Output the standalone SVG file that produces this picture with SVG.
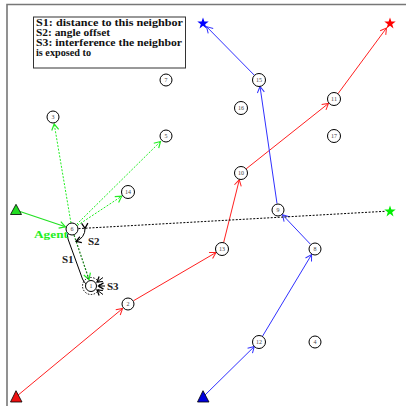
<svg xmlns="http://www.w3.org/2000/svg" width="406" height="406" viewBox="0 0 406 406">
  <style>
    .node circle { fill: #fff; stroke: #000; stroke-width: 1; }
    .node text { font-family: "Liberation Serif", "DejaVu Serif", serif; font-size: 6px; fill: #444; text-anchor: middle; }
    .lbl { font-family: "Liberation Serif", "DejaVu Serif", serif; font-weight: bold; font-size: 11px; fill: #222; }
    .leg { font-family: "Liberation Serif", "DejaVu Serif", serif; font-weight: bold; font-size: 10px; fill: #111; }
    .red { stroke: #ff2020; stroke-width: 1; fill: none; }
    .blue { stroke: #3030ff; stroke-width: 1; fill: none; }
    .grn { stroke: #22e022; stroke-width: 1.2; fill: none; }
    .grnd { stroke: #22ee22; stroke-width: 1; fill: none; stroke-dasharray: 2 1.5; }
    .dkgd { stroke: #117711; stroke-width: 1.2; fill: none; stroke-dasharray: 2 1.5; }
    .blkd { stroke: #000; stroke-width: 1; fill: none; stroke-dasharray: 2 1.5; }
  </style>
  <defs>
    <marker id="aR" markerUnits="userSpaceOnUse" markerWidth="12" markerHeight="12" refX="0" refY="0" viewBox="-7 -6 8 12" orient="auto">
      <path d="M-6,-3.5 L0,0 L-6,3.5" fill="none" stroke="#ff2020" stroke-width="1"/>
    </marker>
    <marker id="aB" markerUnits="userSpaceOnUse" markerWidth="12" markerHeight="12" refX="0" refY="0" viewBox="-7 -6 8 12" orient="auto">
      <path d="M-6,-3.5 L0,0 L-6,3.5" fill="none" stroke="#3030ff" stroke-width="1"/>
    </marker>
    <marker id="aG" markerUnits="userSpaceOnUse" markerWidth="12" markerHeight="12" refX="0" refY="0" viewBox="-7 -6 8 12" orient="auto">
      <path d="M-6,-3.5 L0,0 L-6,3.5" fill="none" stroke="#22ee22" stroke-width="1.2"/>
    </marker>
    <marker id="aK" markerUnits="userSpaceOnUse" markerWidth="10" markerHeight="10" refX="0" refY="0" viewBox="-5 -4 6 8" orient="auto">
      <path d="M-4,-2.5 L0,0 L-4,2.5" fill="none" stroke="#000" stroke-width="1"/>
    </marker>
    <polygon id="star" points="0,-6 1.4,-1.9 5.7,-1.9 2.2,0.7 3.5,4.9 0,2.3 -3.5,4.9 -2.2,0.7 -5.7,-1.9 -1.4,-1.9"/>
  </defs>

  <rect width="406" height="406" fill="#fff"/>
  <!-- frame -->
  <path d="M7,406 V4.5 H406" fill="none" stroke="#777" stroke-width="1.6"/>

  <!-- legend -->
  <g id="legend">
    <rect x="33.5" y="17" width="152" height="51" fill="#fff" stroke="#333" stroke-width="1"/>
    <text class="leg" x="36" y="26" textLength="147" lengthAdjust="spacingAndGlyphs">S1: distance to this neighbor</text>
    <text class="leg" x="36" y="36" textLength="74" lengthAdjust="spacingAndGlyphs">S2: angle offset</text>
    <text class="leg" x="36" y="46" textLength="146" lengthAdjust="spacingAndGlyphs">S3: interference the neighbor</text>
    <text class="leg" x="36" y="55.5" textLength="55" lengthAdjust="spacingAndGlyphs">is exposed to</text>
  </g>

  <!-- connectors -->
  <g id="connectors">
    <!-- red route -->
    <line class="red" x1="17" y1="396" x2="122.6" y2="308.5" marker-end="url(#aR)"/>
    <line class="red" x1="133.6" y1="300.7" x2="216" y2="252.5" marker-end="url(#aR)"/>
    <line class="red" x1="223.6" y1="242.7" x2="239.3" y2="179.8" marker-end="url(#aR)"/>
    <line class="red" x1="246.1" y1="168.9" x2="328.5" y2="103.4" marker-end="url(#aR)"/>
    <line class="red" x1="337.9" y1="93.8" x2="386.5" y2="28" marker-end="url(#aR)"/>
    <!-- blue route -->
    <line class="blue" x1="204" y1="396" x2="254.3" y2="346.5" marker-end="url(#aB)"/>
    <line class="blue" x1="262.4" y1="336.4" x2="311.6" y2="254.6" marker-end="url(#aB)"/>
    <line class="blue" x1="310.5" y1="244.3" x2="282.5" y2="214.8" marker-end="url(#aB)"/>
    <line class="blue" x1="277" y1="203.5" x2="260" y2="86.5" marker-end="url(#aB)"/>
    <line class="blue" x1="254.4" y1="75.3" x2="206.5" y2="26.6" marker-end="url(#aB)"/>
    <!-- agent entry -->
    <line class="grn" x1="20" y1="211.5" x2="65.4" y2="226.8" marker-end="url(#aG)"/>
    <!-- candidate neighbours -->
    <line class="grnd" x1="71" y1="223" x2="54.2" y2="124" marker-end="url(#aG)"/>
    <line class="grnd" x1="76.6" y1="224.4" x2="160.5" y2="141.5" marker-end="url(#aG)"/>
    <line class="grnd" x1="77.4" y1="225.4" x2="121.7" y2="196.2" marker-end="url(#aG)"/>
    <line class="dkgd" x1="74" y1="235" x2="89" y2="279.5" marker-end="url(#aG)"/>
    <!-- direction to destination -->
    <line class="blkd" x1="78.5" y1="228.6" x2="385" y2="211.3"/>
    <!-- S2 angle arc -->
    <path d="M85,228.3 A13,13 0 0 1 76.1,241.3" fill="none" stroke="#000" stroke-width="1" marker-start="url(#aK)" marker-end="url(#aK)"/>
    <!-- S1 distance bracket -->
    <path d="M69,232 Q66.5,235 68,239 L82.5,279 Q84,283 87,284.5" fill="none" stroke="#000" stroke-width="1"/>
    <!-- S3 interference -->
    <circle cx="91" cy="286" r="8.5" fill="none" stroke="#000" stroke-width="1" stroke-dasharray="1.5 1.5"/>
    <line x1="103" y1="277.5" x2="97" y2="282" stroke="#000" stroke-width="1" marker-end="url(#aK)"/>
    <line x1="105" y1="286" x2="98.5" y2="286" stroke="#000" stroke-width="1" marker-end="url(#aK)"/>
    <line x1="103" y1="294.5" x2="97" y2="290" stroke="#000" stroke-width="1" marker-end="url(#aK)"/>
  </g>

  <!-- sources and destinations -->
  <g id="sources">
    <polygon points="16,204.3 10.5,214.5 21.5,214.5" fill="#22dd22" stroke="#000" stroke-width="0.8"/>
    <polygon points="16,390.7 10.5,402 22,402" fill="#ee1111" stroke="#000" stroke-width="0.8"/>
    <polygon points="203,390.7 197.5,402 209,402" fill="#0000dd" stroke="#000" stroke-width="0.8"/>
  </g>
  <g id="destinations">
    <use href="#star" x="203" y="23.5" fill="#0000ff"/>
    <use href="#star" x="390" y="23.5" fill="#ff0000"/>
    <use href="#star" x="390" y="211.5" fill="#00ee00"/>
  </g>

  <!-- nodes -->
  <g id="n1" class="node"><circle cx="91" cy="286" r="5.5"/><text x="91" y="288">1</text></g>
  <g id="n2" class="node"><circle cx="128" cy="304" r="6"/><text x="128" y="306">2</text></g>
  <g id="n3" class="node"><circle cx="53" cy="117" r="6"/><text x="53" y="119">3</text></g>
  <g id="n4" class="node"><circle cx="315" cy="342" r="6"/><text x="315" y="344">4</text></g>
  <g id="n5" class="node"><circle cx="166" cy="136" r="6"/><text x="166" y="138">5</text></g>
  <g id="n6" class="node"><circle cx="72" cy="229" r="6"/><text x="72" y="231">6</text></g>
  <g id="n7" class="node"><circle cx="166" cy="80" r="6"/><text x="166" y="82">7</text></g>
  <g id="n8" class="node"><circle cx="315" cy="249" r="6"/><text x="315" y="251">8</text></g>
  <g id="n9" class="node"><circle cx="278" cy="210" r="6"/><text x="278" y="212">9</text></g>
  <g id="n10" class="node"><circle cx="241" cy="173" r="6.5"/><text x="241" y="175">10</text></g>
  <g id="n11" class="node"><circle cx="334" cy="99" r="6.5"/><text x="334" y="101">11</text></g>
  <g id="n12" class="node"><circle cx="259" cy="342" r="6.5"/><text x="259" y="344">12</text></g>
  <g id="n13" class="node"><circle cx="222" cy="249" r="6.5"/><text x="222" y="251">13</text></g>
  <g id="n14" class="node"><circle cx="128" cy="192" r="6.5"/><text x="128" y="194">14</text></g>
  <g id="n15" class="node"><circle cx="259" cy="80" r="6.5"/><text x="259" y="82">15</text></g>
  <g id="n16" class="node"><circle cx="241" cy="108" r="6.5"/><text x="241" y="110">16</text></g>
  <g id="n17" class="node"><circle cx="334" cy="136" r="6.5"/><text x="334" y="138">17</text></g>

  <!-- labels -->
  <text class="lbl" x="34" y="238" font-size="12" style="fill:#22ee22" textLength="34" lengthAdjust="spacingAndGlyphs">Agent</text>
  <text class="lbl" x="62" y="262.5">S1</text>
  <text class="lbl" x="88" y="244.5">S2</text>
  <text class="lbl" x="107" y="290">S3</text>
</svg>
